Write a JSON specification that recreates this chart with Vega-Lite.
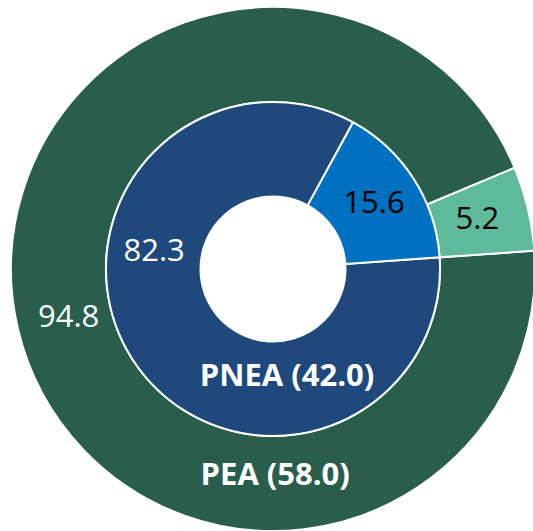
{
  "$schema": "https://vega.github.io/schema/vega-lite/v6.json",
  "width": 520,
  "height": 524,
  "padding": {"left": 13, "top": 7, "right": 0, "bottom": 0},
  "autosize": {"type": "none"},
  "background": "white",
  "view": {"stroke": null},
  "config": {"font": "Open Sans"},
  "datasets": {
    "slices": [
      {"ring": "PEA", "category": "Ocupada", "value": 94.8},
      {"ring": "PEA", "category": "Desocupada", "value": 5.2},
      {"ring": "PNEA", "category": "No disponible", "value": 82.3},
      {"ring": "PNEA", "category": "Disponible", "value": 15.6}
    ],
    "rings": [
      {"ring": "PEA", "title": "PEA (58.0)"},
      {"ring": "PNEA", "title": "PNEA (42.0)"}
    ]
  },
  "layer": [
    {
      "data": {"name": "slices"},
      "transform": [{"filter": "datum.ring === 'PEA'"}],
      "layer": [
        {
          "mark": {"type": "arc", "radius": 262, "radius2": 167, "stroke": "white", "strokeWidth": 2},
          "encoding": {
            "theta": {"field": "value", "type": "quantitative", "stack": "normalize", "scale": {"domain": [0, 1], "range": [1.501, 7.784]}},
            "color": {"field": "category", "type": "nominal", "legend": null,
              "scale": {"domain": ["Ocupada", "Desocupada", "No disponible", "Disponible"], "range": ["#295E4D", "#5FBA9D", "#1F497D", "#0070C0"]}},
            "order": {"field": "value", "sort": "descending"}
          }
        },
        {
          "mark": {"type": "text", "radius": 210, "fontSize": 31, "align": "center", "baseline": "middle"},
          "encoding": {
            "theta": {"field": "value", "type": "quantitative", "stack": "normalize", "scale": {"domain": [0, 1], "range": [1.501, 7.784]}},
            "order": {"field": "value", "sort": "descending"},
            "text": {"field": "value", "type": "quantitative", "format": ".1f"},
            "color": {"condition": {"test": "datum.category === 'Ocupada'", "value": "white"}, "value": "black"}
          }
        }
      ]
    },
    {
      "data": {"name": "slices"},
      "transform": [{"filter": "datum.ring === 'PNEA'"}],
      "layer": [
        {
          "mark": {"type": "arc", "radius": 167, "radius2": 72.5, "stroke": "white", "strokeWidth": 2},
          "encoding": {
            "theta": {"field": "value", "type": "quantitative", "stack": "normalize", "scale": {"domain": [0, 1], "range": [1.501, 7.784]}},
            "color": {"field": "category", "type": "nominal", "legend": null,
              "scale": {"domain": ["Ocupada", "Desocupada", "No disponible", "Disponible"], "range": ["#295E4D", "#5FBA9D", "#1F497D", "#0070C0"]}},
            "order": {"field": "value", "sort": "descending"}
          }
        },
        {
          "mark": {"type": "text", "radius": 120, "fontSize": 31, "align": "center", "baseline": "middle", "color": "black"},
          "encoding": {
            "theta": {"field": "value", "type": "quantitative", "stack": "normalize", "scale": {"domain": [0, 1], "range": [1.501, 7.784]}},
            "order": {"field": "value", "sort": "descending"},
            "text": {"field": "value", "type": "quantitative", "format": ".1f", "condition": {"test": "datum.category !== 'Disponible'", "value": ""}}
          }
        },
        {
          "mark": {"type": "text", "radius": 120, "thetaOffset": 0.71, "fontSize": 31, "align": "center", "baseline": "middle", "color": "white"},
          "encoding": {
            "theta": {"field": "value", "type": "quantitative", "stack": "normalize", "scale": {"domain": [0, 1], "range": [1.501, 7.784]}},
            "order": {"field": "value", "sort": "descending"},
            "text": {"field": "value", "type": "quantitative", "format": ".1f", "condition": {"test": "datum.category !== 'No disponible'", "value": ""}}
          }
        }
      ]
    },
    {
      "data": {"name": "rings"},
      "transform": [{"filter": "datum.ring === 'PNEA'"}],
      "mark": {"type": "text", "theta": 3.012, "radius": 109, "fontSize": 31, "fontWeight": "bold", "color": "white", "align": "center", "baseline": "middle"},
      "encoding": {"text": {"field": "title", "type": "nominal"}}
    },
    {
      "data": {"name": "rings"},
      "transform": [{"filter": "datum.ring === 'PEA'"}],
      "mark": {"type": "text", "theta": 3.131, "radius": 207, "fontSize": 31, "fontWeight": "bold", "color": "white", "align": "center", "baseline": "middle"},
      "encoding": {"text": {"field": "title", "type": "nominal"}}
    }
  ]
}
